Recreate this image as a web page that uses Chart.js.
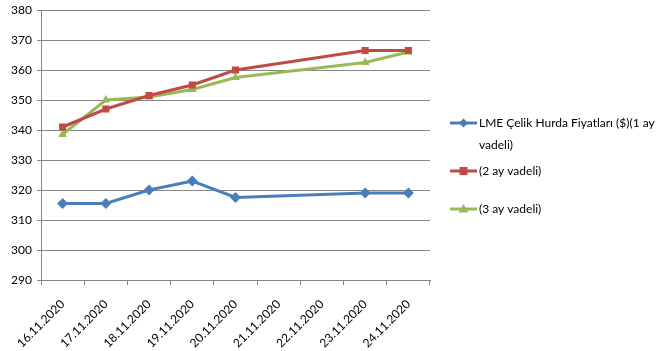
<!DOCTYPE html>
<html lang="tr">
<head>
<meta charset="UTF-8">
<title>LME Çelik Hurda Fiyatları</title>
<script src="https://cdn.jsdelivr.net/npm/chart.js@4/dist/chart.umd.min.js"></script>
<style>
  html, body { margin: 0; padding: 0; background: #fff; }
  #wrap { width: 662px; height: 351px; position: relative; }
</style>
</head>
<body>
<div id="wrap"><canvas id="myChart" width="662" height="351"></canvas></div>
<script>
const dates = ['16.11.2020','17.11.2020','18.11.2020','19.11.2020','20.11.2020','21.11.2020','22.11.2020','23.11.2020','24.11.2020'];
const names = ['LME Çelik Hurda Fiyatları ($)(1 ay vadeli)', '(2 ay vadeli)', '(3 ay vadeli)'];
const ay1 = [315.5, 315.5, 320, 323, 317.5, null, null, 319, 319];
const ay2 = [341, 347, 351.5, 355, 360, null, null, 366.5, 366.5];
const ay3 = [338.5, 350, 351, 353.5, 357.5, null, null, 362.5, 366];
const yTicks = { min: 290, max: 380, step: 10 };

const colors = ['#4A7EBB', '#BE4B48', '#98B954'];
const shapes = ['rectRot', 'rect', 'triangle'];
const font = 'Lato, "Open Sans", sans-serif';

function ds(i, values) {
  return {
    label: names[i], data: values,
    borderColor: colors[i], backgroundColor: colors[i],
    borderWidth: 3, pointStyle: shapes[i],
    pointRadius: i == 0 ? 5.5 : 5, pointBorderWidth: 0,
    spanGaps: true, tension: 0
  };
}

// legend drawn on the canvas, the first label wraps on two lines
const legendPlugin = {
  id: 'sideLegend',
  afterDraw(chart) {
    const c = chart.ctx;
    const items = [
      { y: 123, lines: ['LME Çelik Hurda Fiyatları ($)(1 ay', 'vadeli)'] },
      { y: 171, lines: ['(2 ay vadeli)'] },
      { y: 209, lines: ['(3 ay vadeli)'] }
    ];
    c.save();
    items.forEach((it, i) => {
      c.strokeStyle = colors[i];
      c.lineWidth = 3;
      c.beginPath(); c.moveTo(450, it.y); c.lineTo(477, it.y); c.stroke();
      c.fillStyle = colors[i];
      c.beginPath();
      if (i == 0) { c.moveTo(463.5, it.y - 4.5); c.lineTo(468, it.y); c.lineTo(463.5, it.y + 4.5); c.lineTo(459, it.y); }
      else if (i == 1) { c.rect(459.5, it.y - 4, 8, 8); }
      else { c.moveTo(463.5, it.y - 5); c.lineTo(468.5, it.y + 3.5); c.lineTo(458.5, it.y + 3.5); }
      c.closePath(); c.fill();
      c.fillStyle = '#000';
      c.font = '12px ' + font;
      c.textBaseline = 'middle';
      it.lines.forEach((t, k) => c.fillText(t, 479, it.y + k * 22));
    });
    c.restore();
  }
};

const config = {
  type: 'line',
  data: { labels: dates, datasets: [ds(0, ay1), ds(1, ay2), ds(2, ay3)] },
  options: {
    responsive: false, animation: false,
    layout: { padding: { top: 10, right: 232, left: 0, bottom: 0 } },
    plugins: { legend: { display: false }, tooltip: { enabled: false } },
    scales: {
      x: {
        offset: true,
        grid: { offset: true, drawOnChartArea: false, color: '#868686', tickLength: 5 },
        border: { color: '#868686' },
        ticks: { color: '#000', font: { family: font, size: 12 }, maxRotation: 45, minRotation: 45, autoSkip: false, padding: 12 },
        afterFit: s => { s.height = 71; }
      },
      y: {
        min: yTicks.min, max: yTicks.max,
        grid: { color: '#868686', tickLength: 4 },
        border: { color: '#868686' },
        ticks: { stepSize: yTicks.step, color: '#000', font: { family: font, size: 12 }, padding: 5 },
        afterFit: s => { s.width = 41; s.paddingTop = 0; s.paddingBottom = 0; }
      }
    }
  },
  plugins: [legendPlugin]
};

const myChart = new Chart(document.getElementById('myChart'), config);
</script>
</body>
</html>
